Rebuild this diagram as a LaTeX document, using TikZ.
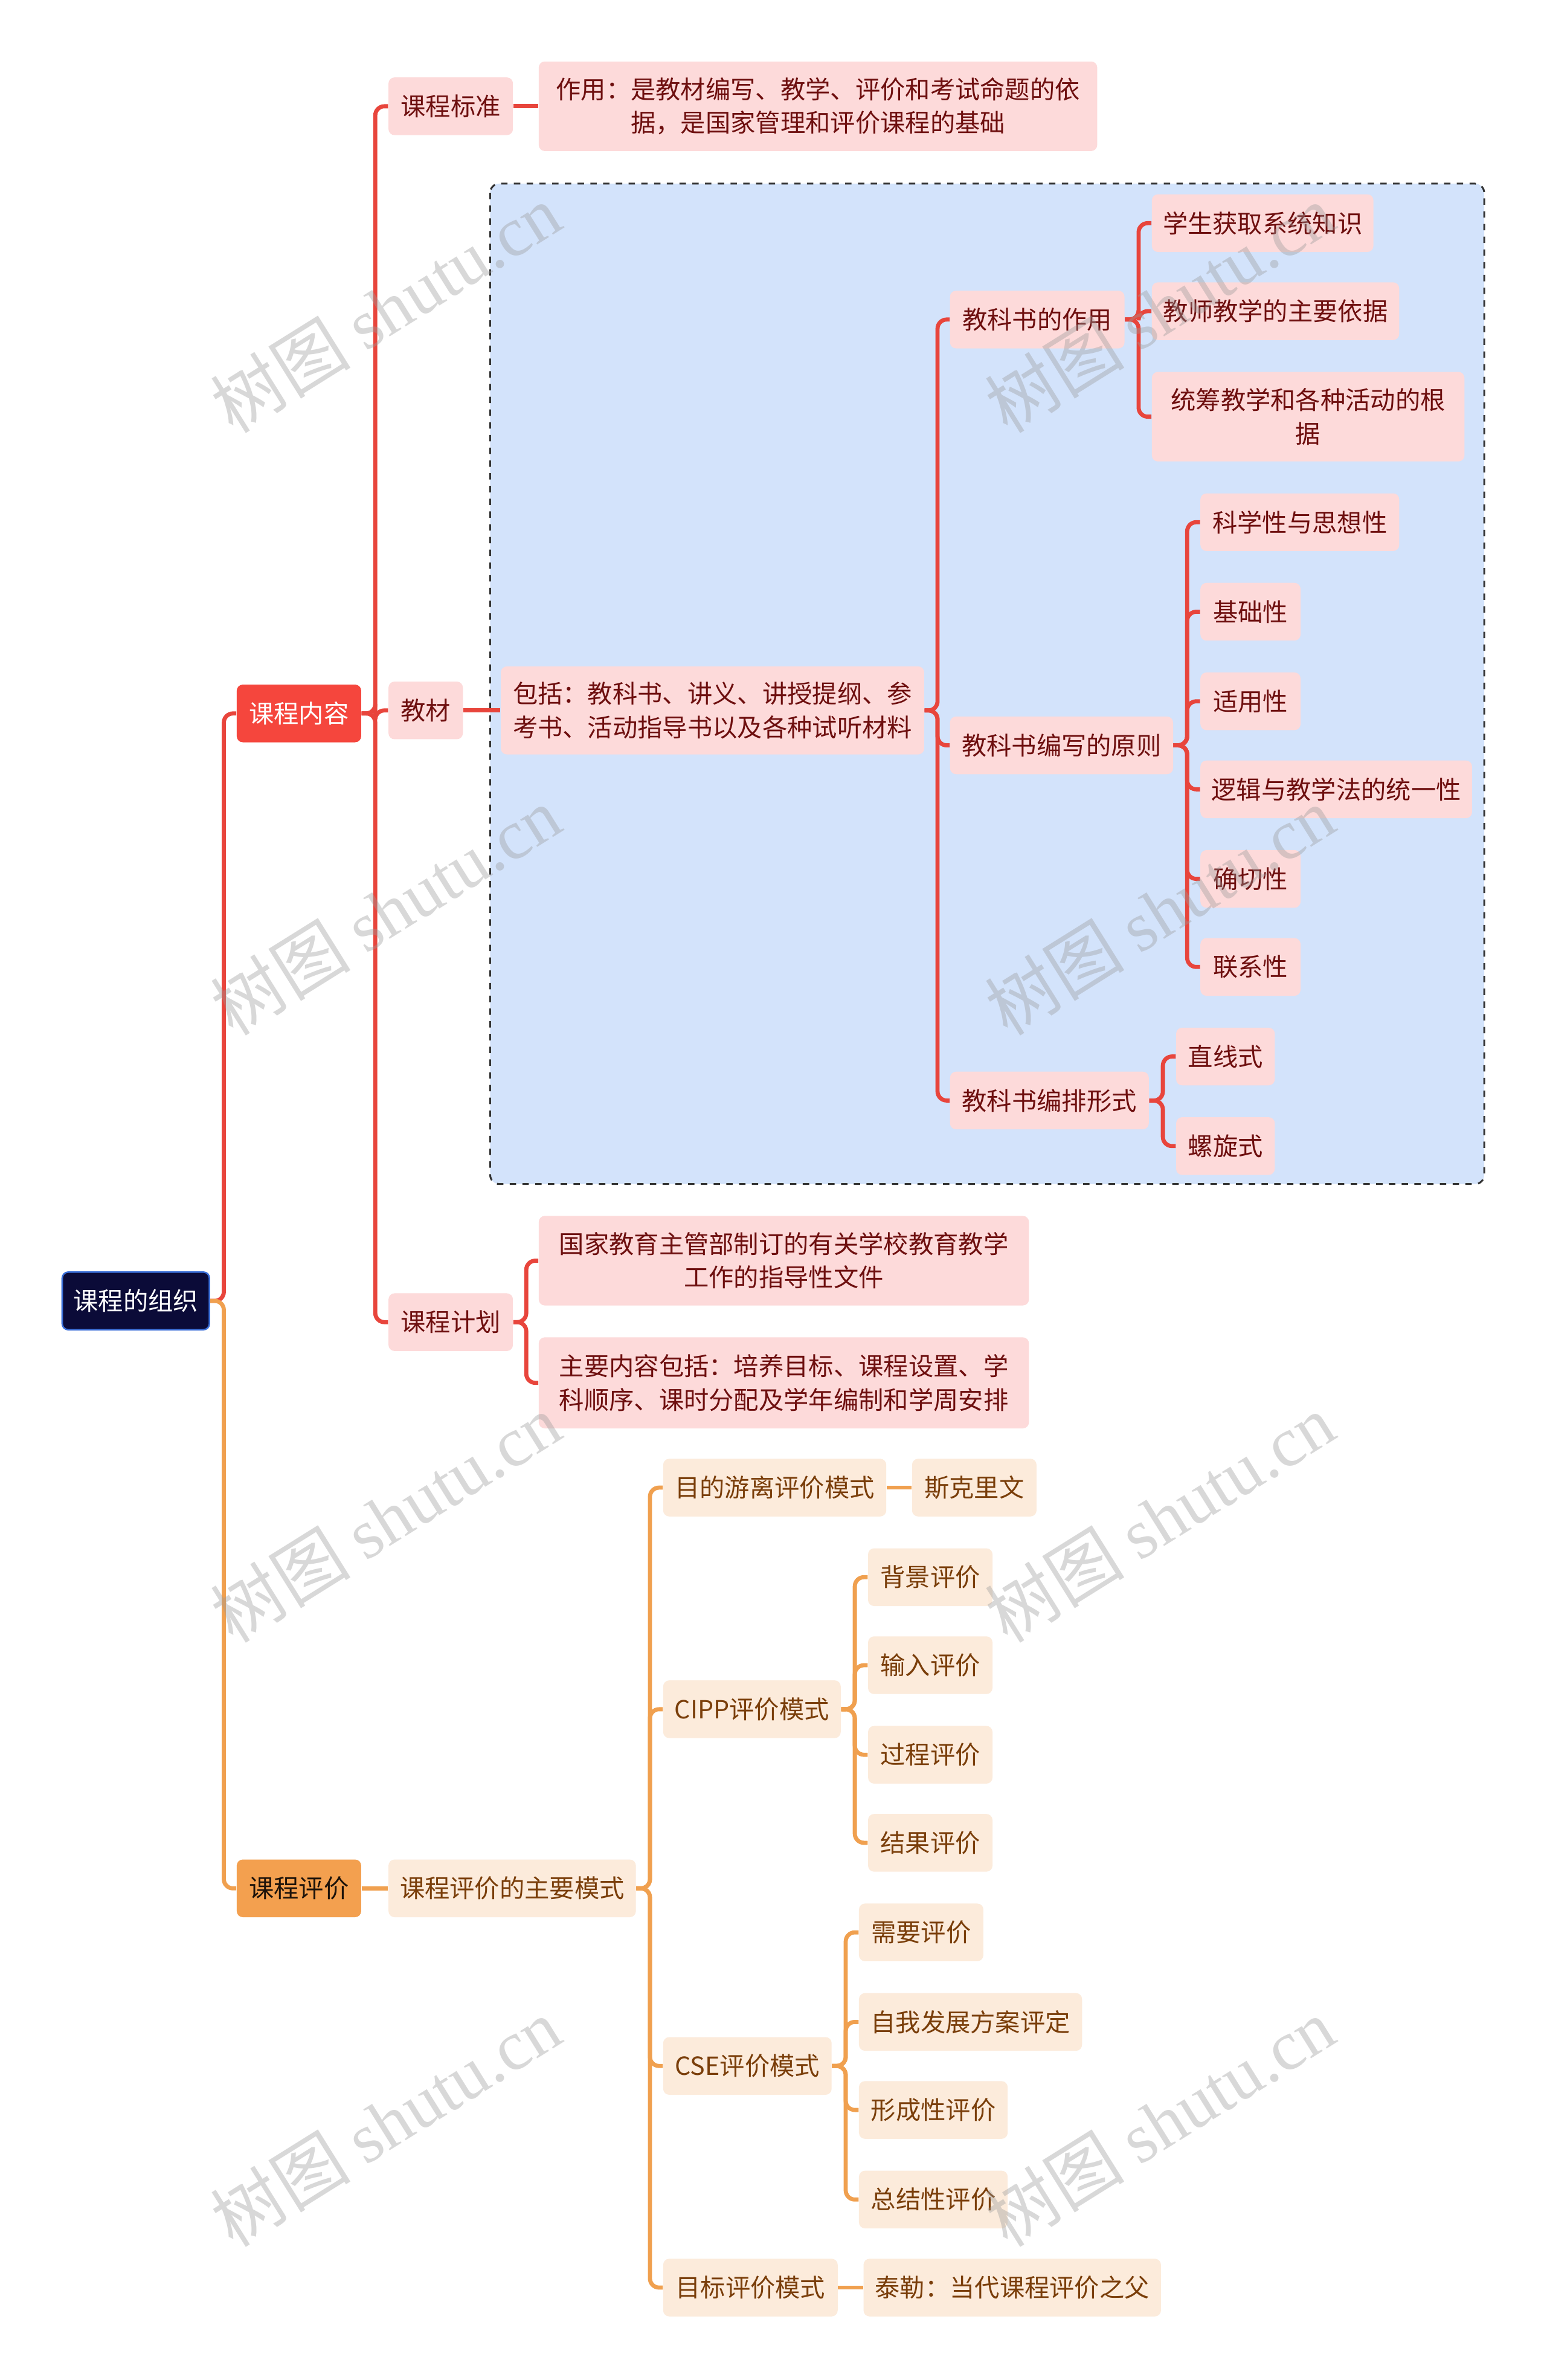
\documentclass[tikz,border=0pt]{standalone}
\usepackage{fontspec}
\setmainfont{Noto Sans CJK SC}
\newfontfamily\wmlatin{Liberation Serif}
\usetikzlibrary{calc}
\newdimen\uu \uu=0.025123cm
\newcommand\mfs{\fontsize{11.75pt}{15.7pt}\selectfont}
\definecolor{rootfill}{HTML}{0B0B38}
\definecolor{rootborder}{HTML}{3A6FD8}
\definecolor{redmain}{HTML}{F5463D}
\definecolor{redline}{HTML}{E8453C}
\definecolor{pinkfill}{HTML}{FDDADA}
\definecolor{pinktext}{HTML}{6E0F0F}
\definecolor{bluefill}{HTML}{D3E3FB}
\definecolor{orangemain}{HTML}{F3A04F}
\definecolor{orangeline}{HTML}{F0A04F}
\definecolor{peachfill}{HTML}{FCEBDB}
\definecolor{browntext}{HTML}{7A3E0A}
\definecolor{wmgray}{HTML}{9A9A9A}
\tikzset{
  box/.style={rounded corners=4\uu, inner sep=0pt, align=center, font=\mfs, minimum height=38\uu},
  pk/.style={box, fill=pinkfill, text=pinktext},
  pc/.style={box, fill=peachfill, text=browntext},
  rl/.style={draw=redline, line width=2.7\uu, rounded corners=6\uu},
  ol/.style={draw=orangeline, line width=2.7\uu, rounded corners=6\uu},
  wm/.style={rotate=32, text=wmgray, opacity=0.38, font=\fontsize{33pt}{33pt}\selectfont},
}
\begin{document}
\begin{tikzpicture}[x=0.025123cm, y=-0.025123cm]
\useasboundingbox[fill=white] (0,0) rectangle (1019,1567.9);
% dashed group
\draw[fill=bluefill, draw=black!80, dashed, line width=1.2\uu, rounded corners=6\uu] (323,121) rectangle (978,780);

% root and level 1
\node[box, fill=rootfill, draw=rootborder, line width=1\uu, text=white, minimum width=97\uu] (root) at (89.5,857) {课程的组织};
\node[box, fill=redmain, text=white, minimum width=82\uu] (nr) at (197,470) {课程内容};
\node[box, fill=orangemain, text=black!85!brown, minimum width=82\uu] (pj) at (197,1244) {课程评价};

% 课程内容 subtree
\node[pk, minimum width=82\uu] (bz) at (297,70) {课程标准};
\node[pk, minimum width=368\uu, minimum height=59\uu] (zy) at (539,70) {作用：是教材编写、教学、评价和考试命题的依\\据，是国家管理和评价课程的基础};
\node[pk, minimum width=49\uu] (jc) at (280.5,468) {教材};
\node[pk, minimum width=279\uu, minimum height=58\uu] (bk) at (469.5,468) {包括：教科书、讲义、讲授提纲、参\\考书、活动指导书以及各种试听材料};
\node[pk, minimum width=115\uu] (zyy) at (683.5,210.5) {教科书的作用};
\node[pk, minimum width=146\uu] (a1) at (832,147) {学生获取系统知识};
\node[pk, minimum width=163\uu] (a2) at (840.5,205) {教师教学的主要依据};
\node[pk, minimum width=206\uu, minimum height=59\uu] (a3) at (862,274.5) {统筹教学和各种活动的根\\据};
\node[pk, minimum width=147\uu] (yz) at (699.5,491) {教科书编写的原则};
\node[pk, minimum width=131\uu] (b1) at (856.5,344) {科学性与思想性};
\node[pk, minimum width=66\uu] (b2) at (824,403) {基础性};
\node[pk, minimum width=66\uu] (b3) at (824,462) {适用性};
\node[pk, minimum width=179\uu] (b4) at (880.5,520) {逻辑与教学法的统一性};
\node[pk, minimum width=66\uu] (b5) at (824,579) {确切性};
\node[pk, minimum width=66\uu] (b6) at (824,637) {联系性};
\node[pk, minimum width=131\uu] (pp) at (691.5,725) {教科书编排形式};
\node[pk, minimum width=65\uu] (c1) at (807.5,696) {直线式};
\node[pk, minimum width=65\uu] (c2) at (807.5,755) {螺旋式};
\node[pk, minimum width=82\uu] (jh) at (297,871) {课程计划};
\node[pk, minimum width=323\uu, minimum height=59\uu] (d1) at (516.5,830.5) {国家教育主管部制订的有关学校教育教学\\工作的指导性文件};
\node[pk, minimum width=323\uu, minimum height=60\uu] (d2) at (516.5,911) {主要内容包括：培养目标、课程设置、学\\科顺序、课时分配及学年编制和学周安排};

% 课程评价 subtree
\node[pc, minimum width=163\uu] (ms) at (337.5,1244) {课程评价的主要模式};
\node[pc, minimum width=147\uu] (m1) at (510.5,980) {目的游离评价模式};
\node[pc, minimum width=82\uu] (m1a) at (642,980) {斯克里文};
\node[pc, minimum width=117\uu] (m2) at (495.5,1126) {CIPP评价模式};
\node[pc, minimum width=82\uu] (e1) at (613,1039) {背景评价};
\node[pc, minimum width=82\uu] (e2) at (613,1097) {输入评价};
\node[pc, minimum width=82\uu] (e3) at (613,1156) {过程评价};
\node[pc, minimum width=82\uu] (e4) at (613,1214) {结果评价};
\node[pc, minimum width=111\uu] (m3) at (492.5,1361) {CSE评价模式};
\node[pc, minimum width=82\uu] (f1) at (607,1273) {需要评价};
\node[pc, minimum width=147\uu] (f2) at (639.5,1332) {自我发展方案评定};
\node[pc, minimum width=98\uu] (f3) at (615,1390) {形成性评价};
\node[pc, minimum width=98\uu] (f4) at (615,1449) {总结性评价};
\node[pc, minimum width=115\uu] (m4) at (494.5,1507) {目标评价模式};
\node[pc, minimum width=196\uu] (m4a) at (667,1507) {泰勒：当代课程评价之父};

% connectors (red)
\draw[rl] (root.east) -- ++(9,0) |- (nr.west);
\foreach \c in {bz,jc,jh} \draw[rl] (nr.east) -- ++(9,0) |- (\c.west);
\draw[rl] (bz.east) -- (zy.west);
\draw[rl] (jc.east) -- (bk.west);
\foreach \c in {zyy,yz,pp} \draw[rl] (bk.east) -- ++(8.5,0) |- (\c.west);
\foreach \c in {a1,a2,a3} \draw[rl] (zyy.east) -- ++(9,0) |- (\c.west);
\foreach \c in {b1,b2,b3,b4,b5,b6} \draw[rl] (yz.east) -- ++(9,0) |- (\c.west);
\foreach \c in {c1,c2} \draw[rl] (pp.east) -- ++(9,0) |- (\c.west);
\foreach \c in {d1,d2} \draw[rl] (jh.east) -- ++(8.5,0) |- (\c.west);
% connectors (orange)
\draw[ol] (root.east) -- ++(9,0) |- (pj.west);
\draw[ol] (pj.east) -- (ms.west);
\foreach \c in {m1,m2,m3,m4} \draw[ol] (ms.east) -- ++(9,0) |- (\c.west);
\draw[ol] (m1.east) -- (m1a.west);
\draw[ol] (m4.east) -- (m4a.west);
\foreach \c in {e1,e2,e3,e4} \draw[ol] (m2.east) -- ++(9,0) |- (\c.west);
\foreach \c in {f1,f2,f3,f4} \draw[ol] (m3.east) -- ++(9,0) |- (\c.west);

% watermarks
\foreach \i/\x/\y in {1/254/203,2/254/600,3/254/1000,4/254/1398,5/764/203,6/764/600,7/764/1000,8/764/1398}
  \node[wm] (wm\i) at (\x,\y) {树图 {\wmlatin shutu.cn}};
\end{tikzpicture}
\end{document}
